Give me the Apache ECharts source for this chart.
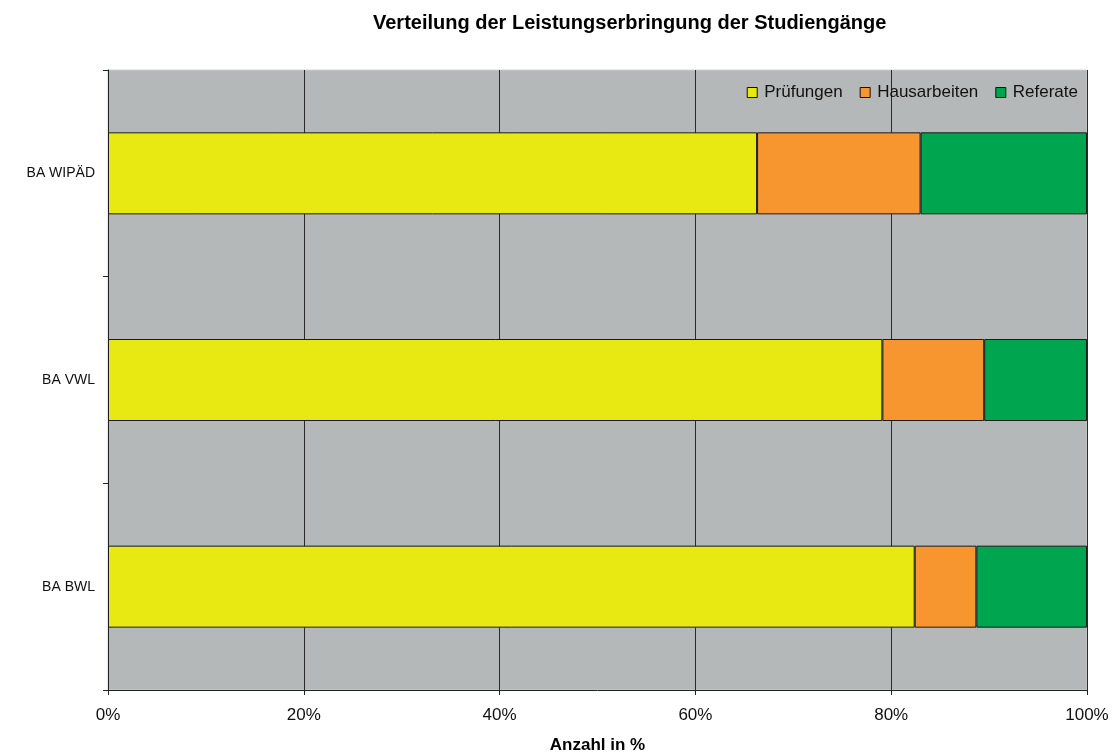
<!DOCTYPE html>
<html><head><meta charset="utf-8">
<script src="https://cdn.jsdelivr.net/npm/echarts@6/dist/echarts.min.js"></script>
<style>html,body{margin:0;padding:0;background:#fff}#c{width:1117px;height:753px}</style>
</head><body><div id="c"></div>
<script>
const categories = ['BA WIPÄD', 'BA VWL', 'BA BWL'];
const pruefungen = [66.3, 79.1, 82.4];
const hausarbeiten = [16.7, 10.4, 6.3];
const referate = [17.0, 10.5, 11.3];
const xTicks = [0, 20, 40, 60, 80, 100];

const chart = echarts.init(document.getElementById('c'));
const font = 'Liberation Sans, Arial, sans-serif';
const mk = (name, data, color) => ({
  name, type: 'bar', stack: 'a', data, barWidth: 82,
  itemStyle: { color, borderColor: '#1a1a1a', borderWidth: 1 },
  emphasis: { disabled: true }
});
chart.setOption({
  animation: false,
  title: {
    text: 'Verteilung der Leistungserbringung der Studiengänge',
    left: 368, top: 8,
    textStyle: { fontFamily: font, fontSize: 20, fontWeight: 'bold', color: '#000' }
  },
  legend: {
    right: 34, top: 79, itemWidth: 10, itemHeight: 10, itemGap: 17,
    icon: 'rect',
    textStyle: { fontFamily: font, fontSize: 17, color: '#111', padding: [0, 0, 0, 2] },
    itemStyle: { borderColor: '#111', borderWidth: 1 }
  },
  grid: {
    left: 108, right: 30, top: 70, bottom: 63, show: true,
    outerBoundsMode: 'none', containLabel: false,
    backgroundColor: '#b5b8b8', borderColor: '#d0d0d0', borderWidth: 1
  },
  xAxis: {
    type: 'value', min: 0, max: 100, interval: 20,
    name: 'Anzahl in %', nameLocation: 'middle', nameGap: 47,
    nameTextStyle: { fontFamily: font, fontSize: 17, fontWeight: 'bold', color: '#000' },
    axisLine: { show: true, lineStyle: { color: '#222', width: 1 } },
    axisTick: { show: true, length: 5, lineStyle: { color: '#222' } },
    axisLabel: { formatter: v => xTicks.includes(v) ? v + '%' : '', fontFamily: font, fontSize: 17, color: '#111', margin: 17 },
    splitLine: { show: true, lineStyle: { color: '#2a2a2a', width: 1 } }
  },
  yAxis: {
    type: 'category', data: categories, inverse: true,
    axisLine: { show: true, lineStyle: { color: '#222', width: 1 } },
    axisTick: { show: true, length: 5, lineStyle: { color: '#222' } },
    axisLabel: { fontFamily: font, fontSize: 14, color: '#111', margin: 13 },
    splitLine: { show: false }
  },
  series: [
    mk('Prüfungen', pruefungen, '#e8e813'),
    mk('Hausarbeiten', hausarbeiten, '#f7952e'),
    mk('Referate', referate, '#00a64f')
  ]
});
</script></body></html>
